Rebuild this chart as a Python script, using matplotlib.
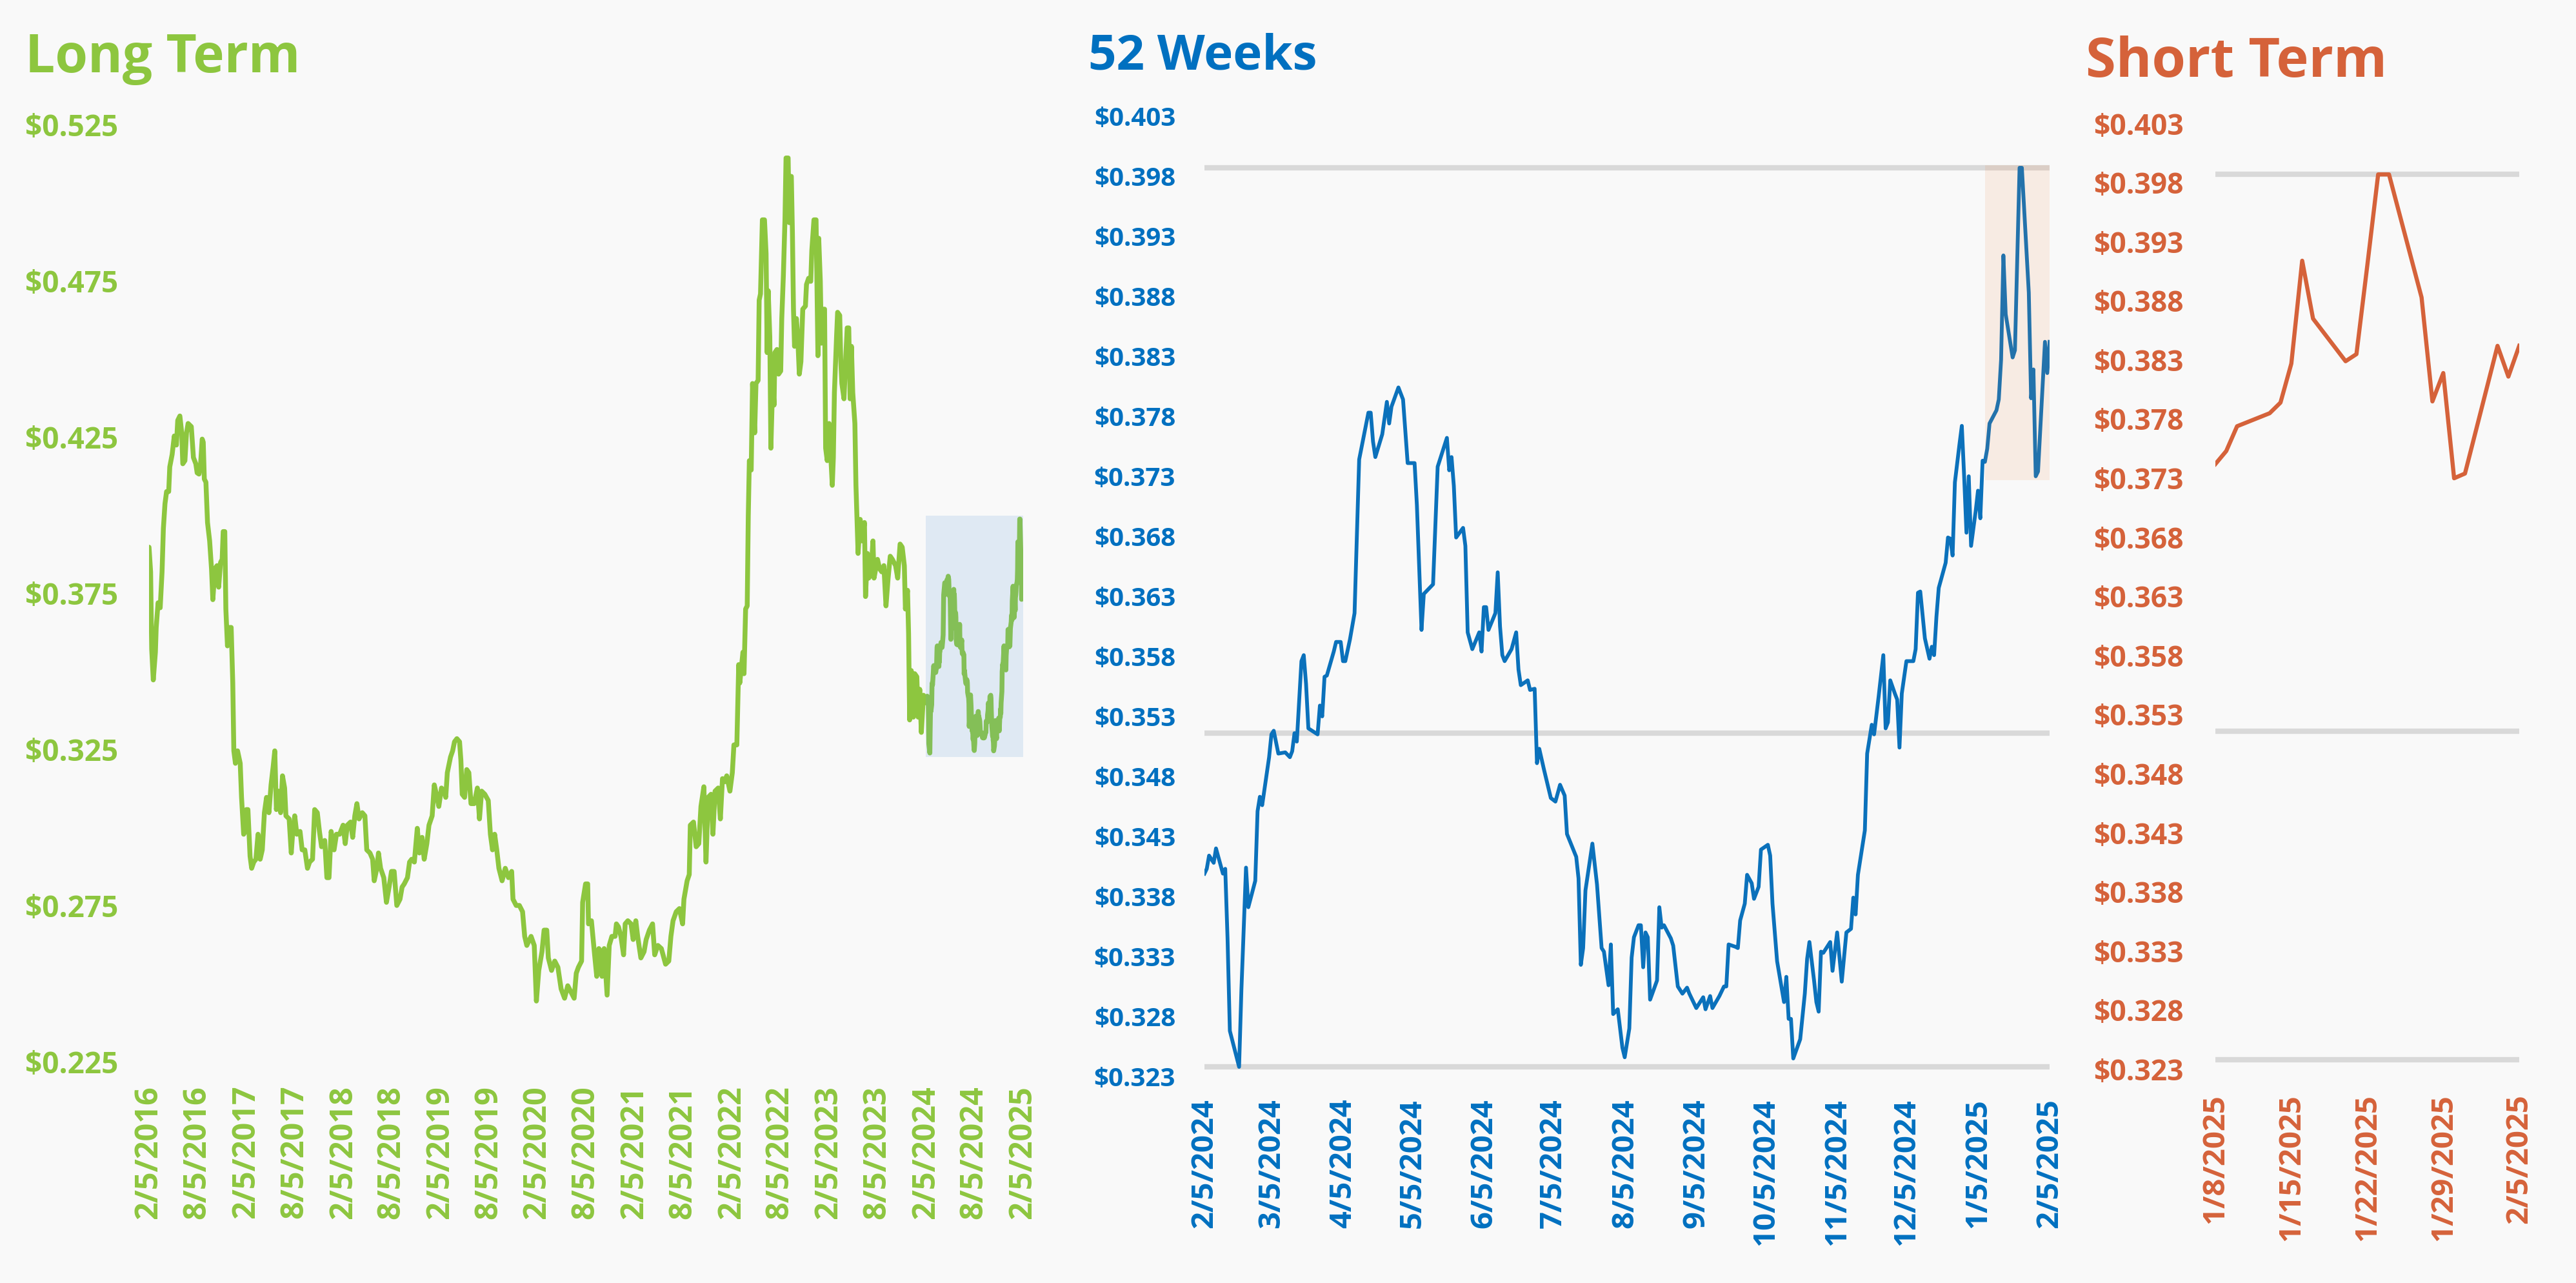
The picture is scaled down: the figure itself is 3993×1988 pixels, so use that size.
import numpy as np
import matplotlib
matplotlib.use("Agg")
import matplotlib.pyplot as plt
from matplotlib.patches import Rectangle

# ---------------- data ----------------
lt_start = "2016-02-05"
# long-term history before the 52-week window (day offsets from lt_start)
lt_days = [0, 6, 10, 16, 24, 27, 34, 42, 49, 54, 60, 66, 74, 78, 87, 95, 103, 108, 116, 123,
           127, 135, 141, 147, 159, 167, 176, 181, 188, 194, 200, 204, 208, 214, 220, 228, 235, 240, 248, 256,
           262, 269, 275, 279, 285, 289, 295, 303, 309, 315, 319, 325, 333, 343, 348, 356, 362, 366, 372, 380,
           386, 394, 402, 410, 418, 426, 434, 442, 451, 459, 467, 473, 479, 487, 495, 502, 510, 515, 527, 535,
           540, 548, 556, 568, 576, 586, 596, 604, 615, 623, 633, 641, 649, 661, 669, 677, 685, 696, 705, 717,
           730, 738, 746, 758, 766, 774, 782, 790, 802, 812, 819, 831, 841, 847, 857, 863, 871, 883, 893, 903,
           912, 922, 932, 944, 952, 960, 972, 980, 988, 998, 1009, 1017, 1027, 1035, 1045, 1053, 1065, 1073, 1081, 1090,
           1100, 1110, 1116, 1122, 1134, 1142, 1149, 1158, 1168, 1173, 1178, 1187, 1195, 1203, 1211, 1223, 1235, 1243, 1251, 1263,
           1276, 1284, 1292, 1300, 1308, 1316, 1328, 1340, 1352, 1364, 1369, 1381, 1393, 1405, 1413, 1421, 1437, 1449, 1457, 1466,
           1478, 1486, 1496, 1502, 1514, 1526, 1538, 1550, 1563, 1575, 1587, 1599, 1607, 1615, 1627, 1631, 1642, 1650, 1653, 1664,
           1676, 1684, 1692, 1700, 1704, 1712, 1723, 1731, 1741, 1753, 1758, 1766, 1775, 1785, 1791, 1801, 1813, 1821, 1831, 1838,
           1850, 1862, 1870, 1882, 1894, 1902, 1914, 1927, 1943, 1955, 1963, 1971, 1983, 1995, 2007, 2012, 2024, 2032, 2036, 2048,
           2058, 2068, 2076, 2087, 2095, 2103, 2114, 2121, 2129, 2141, 2149, 2157, 2165, 2173, 2185, 2194, 2200, 2211, 2218, 2222,
           2234, 2238, 2244, 2250, 2254, 2258, 2265, 2270, 2278, 2283, 2291, 2295, 2300, 2307, 2315, 2321, 2325, 2329, 2335, 2339,
           2346, 2351, 2354, 2362, 2368, 2376, 2380, 2386, 2392, 2396, 2404, 2408, 2412, 2416, 2420, 2424, 2428, 2435, 2440, 2446,
           2452, 2459, 2469, 2473, 2481, 2489, 2493, 2501, 2509, 2516, 2519, 2525, 2529, 2533, 2541, 2545, 2551, 2558, 2570, 2574,
           2578, 2586, 2590, 2598, 2602, 2606, 2614, 2621, 2626, 2632, 2637, 2642, 2647, 2655, 2659, 2667, 2675, 2683, 2691, 2695,
           2702, 2707, 2715, 2723, 2727, 2740, 2748, 2756, 2764, 2772, 2780, 2788, 2796, 2808, 2816, 2825, 2833, 2841, 2845, 2853,
           2857, 2861, 2867, 2875, 2880, 2888, 2893, 2899, 2905, 2913]
lt_vals = [0.3897, 0.3818, 0.3571, 0.3472, 0.3561, 0.3640, 0.3719, 0.3703, 0.3818, 0.3957, 0.4036, 0.4075, 0.4075, 0.4154, 0.4194, 0.4253, 0.4224, 0.4303, 0.4317, 0.4263,
           0.4164, 0.4174, 0.4263, 0.4293, 0.4283, 0.4184, 0.4164, 0.4135, 0.4131, 0.4164, 0.4243, 0.4233, 0.4115, 0.4105, 0.3976, 0.3917, 0.3828, 0.3729, 0.3828, 0.3838,
           0.3769, 0.3848, 0.3858, 0.3947, 0.3947, 0.3699, 0.3581, 0.3640, 0.3640, 0.3462, 0.3245, 0.3205, 0.3245, 0.3205, 0.3096, 0.2978, 0.2987, 0.3057, 0.3057, 0.2908,
           0.2869, 0.2889, 0.2898, 0.2978, 0.2898, 0.2928, 0.3047, 0.3096, 0.3047, 0.3136, 0.3195, 0.3245, 0.3057, 0.3116, 0.3047, 0.3165, 0.3126, 0.3037, 0.3027, 0.2918,
           0.2978, 0.3037, 0.2978, 0.2987, 0.2928, 0.2928, 0.2869, 0.2889, 0.2898, 0.3057, 0.3047, 0.2987, 0.2938, 0.2958, 0.2839, 0.2839, 0.2987, 0.2928, 0.2978, 0.2978,
           0.3007, 0.2948, 0.3007, 0.3017, 0.2968, 0.3037, 0.3076, 0.3027, 0.3047, 0.3037, 0.2928, 0.2918, 0.2898, 0.2829, 0.2869, 0.2918, 0.2869, 0.2839, 0.2760, 0.2809,
           0.2859, 0.2859, 0.2750, 0.2770, 0.2809, 0.2819, 0.2839, 0.2889, 0.2898, 0.2889, 0.2997, 0.2918, 0.2968, 0.2898, 0.2948, 0.3007, 0.3037, 0.3136, 0.3106, 0.3067,
           0.3126, 0.3116, 0.3096, 0.3175, 0.3225, 0.3245, 0.3274, 0.3284, 0.3274, 0.3215, 0.3106, 0.3096, 0.3185, 0.3175, 0.3076, 0.3076, 0.3126, 0.3027, 0.3116, 0.3106,
           0.3086, 0.2978, 0.2928, 0.2978, 0.2928, 0.2869, 0.2829, 0.2869, 0.2839, 0.2859, 0.2770, 0.2750, 0.2750, 0.2730, 0.2651, 0.2622, 0.2651, 0.2622, 0.2444, 0.2542,
           0.2602, 0.2671, 0.2671, 0.2582, 0.2542, 0.2572, 0.2552, 0.2483, 0.2453, 0.2493, 0.2473, 0.2453, 0.2533, 0.2552, 0.2572, 0.2760, 0.2819, 0.2819, 0.2691, 0.2701,
           0.2592, 0.2523, 0.2612, 0.2602, 0.2523, 0.2612, 0.2463, 0.2622, 0.2651, 0.2651, 0.2691, 0.2681, 0.2651, 0.2592, 0.2691, 0.2701, 0.2691, 0.2641, 0.2701, 0.2651,
           0.2582, 0.2602, 0.2641, 0.2671, 0.2691, 0.2592, 0.2622, 0.2612, 0.2562, 0.2572, 0.2651, 0.2701, 0.2730, 0.2740, 0.2691, 0.2770, 0.2829, 0.2849, 0.3007, 0.3017,
           0.2938, 0.2948, 0.3067, 0.3130, 0.2889, 0.3096, 0.3106, 0.2978, 0.3116, 0.3126, 0.3027, 0.3156, 0.3146, 0.3165, 0.3116, 0.3175, 0.3264, 0.3264, 0.3521, 0.3462,
           0.3561, 0.3492, 0.3699, 0.3709, 0.3996, 0.4174, 0.4144, 0.4421, 0.4263, 0.4421, 0.4431, 0.4688, 0.4708, 0.4945, 0.4945, 0.4837, 0.4520, 0.4718, 0.4570, 0.4214,
           0.4431, 0.4352, 0.4520, 0.4530, 0.4451, 0.4461, 0.4629, 0.4767, 0.4945, 0.5143, 0.5143, 0.4936, 0.5084, 0.5084, 0.4906, 0.4659, 0.4540, 0.4629, 0.4570, 0.4451,
           0.4491, 0.4659, 0.4669, 0.4738, 0.4758, 0.4748, 0.4847, 0.4945, 0.4945, 0.4510, 0.4886, 0.4748, 0.4550, 0.4659, 0.4659, 0.4214, 0.4174, 0.4293, 0.4095, 0.4184,
           0.4392, 0.4570, 0.4649, 0.4639, 0.4491, 0.4421, 0.4372, 0.4510, 0.4599, 0.4599, 0.4372, 0.4540, 0.4392, 0.4293, 0.4095, 0.3877, 0.3986, 0.3917, 0.3976, 0.3739,
           0.3877, 0.3798, 0.3808, 0.3917, 0.3798, 0.3858, 0.3828, 0.3818, 0.3838, 0.3709, 0.3798, 0.3868, 0.3858, 0.3838, 0.3798, 0.3907, 0.3897, 0.3838, 0.3699, 0.3759,
           0.3620, 0.3344, 0.3502, 0.3353, 0.3492, 0.3482, 0.3353, 0.3442, 0.3304, 0.3423]

w52_start = "2024-02-05"
# 52-week window before the short-term window (day offsets from w52_start)
w52_days = [0, 1, 2, 4, 5, 8, 9, 10, 11, 15, 16, 18, 19, 22, 23, 24, 25, 28, 29, 30,
            32, 35, 37, 38, 39, 40, 42, 43, 44, 45, 49, 50, 51, 52, 53, 56, 57, 59, 60, 61,
            63, 65, 67, 71, 72, 73, 74, 77, 79, 80, 81, 84, 86, 88, 91, 92, 94, 95, 99, 101,
            105, 106, 107, 108, 109, 112, 113, 114, 116, 119, 120, 121, 122, 123, 126, 127, 128, 129, 130, 133,
            135, 136, 137, 140, 141, 143, 144, 145, 147, 150, 152, 154, 156, 157, 161, 162, 163, 164, 165, 168,
            170, 172, 173, 175, 176, 177, 179, 181, 182, 184, 185, 186, 188, 189, 190, 191, 192, 193, 196, 197,
            198, 199, 202, 203, 205, 207, 209, 210, 213, 216, 217, 219, 220, 223, 225, 226, 227, 230, 231, 232,
            234, 235, 237, 238, 240, 241, 244, 245, 246, 248, 251, 252, 253, 254, 255, 258, 260, 261, 262, 264,
            265, 266, 267, 268, 271, 272, 274, 276, 278, 280, 281, 282, 283, 286, 287, 289, 290, 292, 294, 295,
            296, 297, 299, 300, 301, 302, 304, 307, 308, 309, 310, 312, 314, 315, 316, 317, 318, 321, 322, 323,
            324, 325, 327, 328, 329, 330, 331, 332, 334, 335, 336, 337]
w52_vals = [0.3399, 0.3403, 0.3414, 0.3408, 0.3420, 0.3399, 0.3403, 0.3345, 0.3268, 0.3238, 0.3302, 0.3404, 0.3371, 0.3393, 0.3451, 0.3463, 0.3456, 0.3496, 0.3515, 0.3518,
            0.3499, 0.3500, 0.3496, 0.3501, 0.3516, 0.3509, 0.3576, 0.3581, 0.3557, 0.3520, 0.3515, 0.3539, 0.3530, 0.3563, 0.3564, 0.3584, 0.3592, 0.3592, 0.3576, 0.3576,
            0.3594, 0.3616, 0.3744, 0.3783, 0.3783, 0.3759, 0.3746, 0.3765, 0.3792, 0.3774, 0.3788, 0.3804, 0.3794, 0.3741, 0.3741, 0.3706, 0.3602, 0.3632, 0.3640, 0.3738,
            0.3762, 0.3735, 0.3746, 0.3722, 0.3679, 0.3687, 0.3672, 0.3600, 0.3586, 0.3600, 0.3584, 0.3621, 0.3621, 0.3602, 0.3616, 0.3650, 0.3605, 0.3581, 0.3576, 0.3586,
            0.3600, 0.3569, 0.3556, 0.3560, 0.3552, 0.3553, 0.3491, 0.3503, 0.3486, 0.3462, 0.3459, 0.3473, 0.3464, 0.3432, 0.3413, 0.3395, 0.3323, 0.3337, 0.3385, 0.3424,
            0.3390, 0.3337, 0.3334, 0.3306, 0.3340, 0.3282, 0.3286, 0.3254, 0.3246, 0.3270, 0.3329, 0.3346, 0.3356, 0.3356, 0.3321, 0.3350, 0.3346, 0.3294, 0.3310, 0.3371,
            0.3354, 0.3356, 0.3345, 0.3339, 0.3305, 0.3299, 0.3304, 0.3299, 0.3287, 0.3296, 0.3286, 0.3297, 0.3287, 0.3297, 0.3305, 0.3305, 0.3340, 0.3338, 0.3337, 0.3360,
            0.3374, 0.3398, 0.3391, 0.3378, 0.3388, 0.3419, 0.3423, 0.3414, 0.3374, 0.3326, 0.3292, 0.3313, 0.3278, 0.3278, 0.3245, 0.3261, 0.3299, 0.3328, 0.3342, 0.3310,
            0.3292, 0.3284, 0.3334, 0.3333, 0.3342, 0.3318, 0.3350, 0.3309, 0.3350, 0.3353, 0.3379, 0.3365, 0.3398, 0.3435, 0.3499, 0.3523, 0.3515, 0.3547, 0.3581, 0.3520,
            0.3525, 0.3560, 0.3549, 0.3544, 0.3504, 0.3549, 0.3576, 0.3576, 0.3586, 0.3633, 0.3634, 0.3595, 0.3578, 0.3588, 0.3581, 0.3613, 0.3637, 0.3658, 0.3679, 0.3678,
            0.3664, 0.3725, 0.3757, 0.3772, 0.3730, 0.3683, 0.3730, 0.3672, 0.3701, 0.3718, 0.3695, 0.3743]
w52_avg = 0.3516

st_start = "2025-01-08"
st_dates = ["2025-01-08", "2025-01-09", "2025-01-10", "2025-01-13", "2025-01-14", "2025-01-15", "2025-01-16",
            "2025-01-17", "2025-01-20", "2025-01-21", "2025-01-22", "2025-01-23", "2025-01-24", "2025-01-27",
            "2025-01-28", "2025-01-29", "2025-01-30", "2025-01-31", "2025-02-03", "2025-02-04", "2025-02-05"]
st_vals = [0.3742, 0.3753, 0.3774, 0.3785, 0.3794, 0.3827, 0.3914, 0.3865, 0.3829, 0.3835, 0.3910,
           0.3987, 0.3987, 0.3883, 0.3795, 0.3819, 0.3730, 0.3734, 0.3842, 0.3816, 0.3842]

lt_ticks = ["2016-02-05", "2016-08-05", "2017-02-05", "2017-08-05", "2018-02-05", "2018-08-05", "2019-02-05",
            "2019-08-05", "2020-02-05", "2020-08-05", "2021-02-05", "2021-08-05", "2022-02-05", "2022-08-05",
            "2023-02-05", "2023-08-05", "2024-02-05", "2024-08-05", "2025-02-05"]
w52_ticks = ["2024-02-05", "2024-03-05", "2024-04-05", "2024-05-05", "2024-06-05", "2024-07-05", "2024-08-05",
             "2024-09-05", "2024-10-05", "2024-11-05", "2024-12-05", "2025-01-05", "2025-02-05"]
st_ticks = ["2025-01-08", "2025-01-15", "2025-01-22", "2025-01-29", "2025-02-05"]
lt_yticks = [0.225, 0.275, 0.325, 0.375, 0.425, 0.475, 0.525]
wk_yticks = [round(0.323 + 0.005 * i, 3) for i in range(17)]
lt_rect = (0.3226, 0.3998)
w52_rect = (0.3727, 0.3989)

# ---------------- helpers ----------------
def off(start, d):
    return int((np.datetime64(d) - np.datetime64(start)).astype(int))

def lab(d):
    y, m, dd = d.split("-")
    return f"{int(m)}/{int(dd)}/{y}"

st_days = [off(st_start, d) for d in st_dates]
w52_full_days = w52_days + [off(w52_start, d) for d in st_dates]
w52_full_vals = w52_vals + st_vals
shift = off(lt_start, w52_start)
lt_full_days = lt_days + [d + shift for d in w52_full_days]
lt_full_vals = lt_vals + w52_full_vals

BG = "#f9f9f9"
GREEN = "#8dc63f"
BLUE = "#0070c0"
BLUE_LINE = "#0b71bb"
ORANGE = "#d5623a"
GRAY = "#d9d9d9"
FONT = "Open Sans"

W, H = 3993, 1988
fig = plt.figure(figsize=(W / 100, H / 100), dpi=100, facecolor=BG)

def ax_at(x0, x1, ytop, ybot):
    ax = fig.add_axes([x0 / W, 1 - ybot / H, (x1 - x0) / W, (ybot - ytop) / H])
    ax.set_facecolor("none")
    for s in ax.spines.values():
        s.set_visible(False)
    return ax

def style(ax, color, yfs, ypad, xfs, xpad):
    ax.tick_params(axis="both", length=0)
    ax.tick_params(axis="y", pad=ypad)
    ax.tick_params(axis="x", pad=xpad)
    for t in ax.get_yticklabels():
        t.set_fontfamily(FONT); t.set_fontweight("bold"); t.set_fontsize(yfs); t.set_color(color)
    for t in ax.get_xticklabels():
        t.set_fontfamily(FONT); t.set_fontweight("bold"); t.set_fontsize(xfs); t.set_color(color)
        t.set_rotation(90)

# ---- Long term ----
ax1 = ax_at(231, 1586, 193, 1645)
ax1.plot(lt_full_days, lt_full_vals, color=GREEN, lw=5.4, solid_joinstyle="round",
         solid_capstyle="round", zorder=2)
x0 = off(lt_start, w52_start)
x1 = off(lt_start, lt_ticks[-1])
ax1.add_patch(Rectangle((x0, lt_rect[0]), x1 - x0 + 8, lt_rect[1] - lt_rect[0],
                        facecolor="#5b9bd5", alpha=0.16, edgecolor="none", zorder=3))
ax1.set_xlim(0, off(lt_start, lt_ticks[-1]))
ax1.set_ylim(lt_yticks[0], lt_yticks[-1])
ax1.set_yticks(lt_yticks)
ax1.set_yticklabels([f"${v:.3f}" for v in lt_yticks])
ax1.set_xticks([off(lt_start, d) for d in lt_ticks])
ax1.set_xticklabels([lab(d) for d in lt_ticks])
style(ax1, GREEN, 33, 34.5, 35, 26.5)

# ---- 52 weeks ----
ax2 = ax_at(1867, 3177, 180, 1668)
wmin, wmax = min(w52_full_vals), max(w52_full_vals)
wend = off(w52_start, w52_ticks[-1])
for v in (wmin, w52_avg, wmax):
    ax2.plot([0, wend], [v, v], color=GRAY, lw=6, solid_capstyle="round", zorder=1)
ax2.plot(w52_full_days, w52_full_vals, color=BLUE_LINE, lw=4.2, solid_joinstyle="round", zorder=2)
r0 = off(w52_start, st_start)
ax2.add_patch(Rectangle((r0, w52_rect[0]), wend - r0 + 1, w52_rect[1] - w52_rect[0],
                        facecolor="#ed7d31", alpha=0.11, edgecolor="none", zorder=3))
ax2.set_xlim(0, wend)
ax2.set_ylim(0.323, 0.403)
ax2.set_yticks(wk_yticks)
ax2.set_yticklabels([f"${v:.3f}" for v in wk_yticks])
ax2.set_xticks([off(w52_start, d) for d in w52_ticks])
ax2.set_xticklabels([lab(d) for d in w52_ticks])
style(ax2, BLUE, 29, 32.4, 34, 24.5)

# ---- Short term ----
ax3 = ax_at(3434, 3905, 191.5, 1657)
send = off(st_start, st_ticks[-1])
for v in (wmin, w52_avg, wmax):
    ax3.plot([0, send], [v, v], color=GRAY, lw=6, solid_capstyle="butt", zorder=1)
ax3.plot(st_days, st_vals, color=ORANGE, lw=4.6, solid_joinstyle="round", zorder=2)
ax3.set_xlim(0, send)
ax3.set_ylim(0.323, 0.403)
ax3.set_yticks(wk_yticks)
ax3.set_yticklabels([f"${v:.3f}" for v in wk_yticks])
ax3.set_xticks([off(st_start, d) for d in st_ticks])
ax3.set_xticklabels([lab(d) for d in st_ticks])
style(ax3, ORANGE, 32, 35.3, 34, 27.4)

# ---- titles ----
fig.text(39 / W, 1 - 112 / H, "Long Term", color=GREEN, fontsize=59, fontweight="bold",
         family=FONT, va="baseline", ha="left")
fig.text(1687 / W, 1 - 107 / H, "52 Weeks", color=BLUE, fontsize=55, fontweight="bold",
         family=FONT, va="baseline", ha="left")
fig.text(3233 / W, 1 - 119 / H, "Short Term", color=ORANGE, fontsize=61, fontweight="bold",
         family=FONT, va="baseline", ha="left")

fig.savefig("out.png", dpi=100, facecolor=BG)
